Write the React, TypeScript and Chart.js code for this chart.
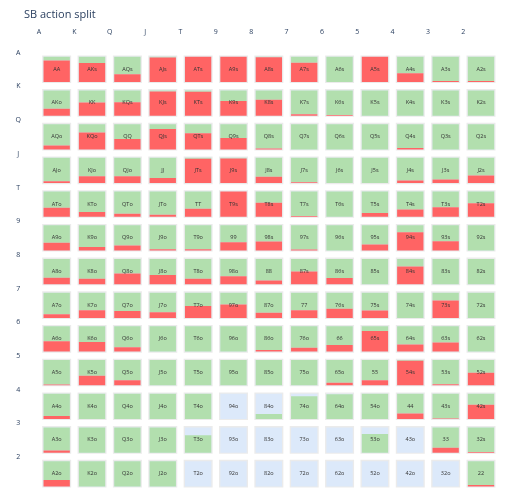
import React, { useEffect, useRef } from "react";
import { Chart, registerables } from "chart.js";

Chart.register(...registerables);

const ranks = ["A", "K", "Q", "J", "T", "9", "8", "7", "6", "5", "4", "3", "2"];

// raise share per cell (row = first rank, col = second rank)
const raiseA = [0.85, 0.75, 0.31, 0.97, 1, 1, 0.98, 0.76, 0, 1, 0.35, 0.04, 0.04];
const raiseK = [0.28, 0.52, 0.53, 0.96, 0.95, 0.58, 0.63, 0.06, 0.03, 0, 0, 0, 0];
const raiseQ = [0.16, 0.67, 0.41, 0.81, 0.64, 0.45, 0.04, 0, 0, 0, 0.06, 0, 0];
const raiseJ = [0.07, 0.27, 0.27, 0.2, 0.96, 0.97, 0.25, 0.03, 0, 0, 0.1, 0.14, 0.3];
const raiseT = [0.36, 0.19, 0.12, 0.08, 0.32, 1, 0.56, 0.03, 0, 0.15, 0.29, 0.38, 0.54];
const raise9 = [0.31, 0.14, 0.2, 0.05, 0.05, 0.33, 0.36, 0.04, 0, 0.24, 0.72, 0.37, 0];
const raise8 = [0.26, 0.22, 0.42, 0.36, 0.22, 0.32, 0.15, 0.5, 0.25, 0, 0.7, 0, 0];
const raise7 = [0.15, 0.3, 0.27, 0.22, 0.47, 0.53, 0.2, 0.3, 0.36, 0.29, 0, 0.69, 0];
const raise6 = [0.41, 0.38, 0.17, 0, 0, 0, 0.06, 0.15, 0.26, 0.82, 0.28, 0.36, 0];
const raise5 = [0.03, 0.38, 0.2, 0, 0, 0, 0, 0, 0.1, 0.2, 0.97, 0.04, 0.5];
const raise4 = [0.12, 0, 0, 0, 0, 0, 0, 0, 0, 0, 0.22, 0.02, 0.56];
const raise3 = [0.09, 0, 0, 0, 0, 0, 0, 0, 0, 0, 0, 0.2, 0.03];
const raise2 = [0.25, 0, 0, 0, 0, 0, 0, 0, 0, 0, 0, 0, 0.06];

// call share per cell
const callA = [0.15, 0.25, 0.69, 0.03, 0, 0, 0.02, 0.24, 1, 0, 0.65, 0.96, 0.96];
const callK = [0.72, 0.48, 0.47, 0.04, 0.05, 0.42, 0.37, 0.94, 0.97, 1, 1, 1, 1];
const callQ = [0.84, 0.33, 0.59, 0.19, 0.36, 0.55, 0.96, 1, 1, 1, 0.94, 1, 1];
const callJ = [0.93, 0.73, 0.73, 0.8, 0.04, 0.03, 0.75, 0.97, 1, 1, 0.9, 0.86, 0.7];
const callT = [0.64, 0.81, 0.88, 0.92, 0.68, 0, 0.44, 0.97, 1, 0.85, 0.71, 0.62, 0.46];
const call9 = [0.69, 0.86, 0.8, 0.95, 0.95, 0.67, 0.64, 0.96, 1, 0.76, 0.28, 0.63, 1];
const call8 = [0.74, 0.78, 0.58, 0.64, 0.78, 0.68, 0.85, 0.5, 0.75, 1, 0.3, 1, 1];
const call7 = [0.85, 0.7, 0.73, 0.78, 0.53, 0.47, 0.8, 0.7, 0.64, 0.71, 1, 0.31, 1];
const call6 = [0.59, 0.62, 0.83, 1, 1, 1, 0.94, 0.85, 0.74, 0.18, 0.72, 0.64, 1];
const call5 = [0.97, 0.62, 0.8, 1, 1, 1, 1, 1, 0.9, 0.8, 0.03, 0.96, 0.5];
const call4 = [0.88, 1, 1, 1, 1, 0, 0.2, 0.9, 0.98, 1, 0.78, 0.98, 0.44];
const call3 = [0.91, 1, 1, 1, 0.69, 0, 0, 0, 0, 0.74, 0, 0.8, 0.97];
const call2 = [0.75, 1, 1, 1, 0, 0, 0, 0, 0, 0, 0, 0, 0.94];

const raiseRows = [raiseA, raiseK, raiseQ, raiseJ, raiseT, raise9, raise8, raise7, raise6, raise5, raise4, raise3, raise2];
const callRows = [callA, callK, callQ, callJ, callT, call9, call8, call7, call6, call5, call4, call3, call2];

const handName = (r: number, c: number) =>
  r === c ? ranks[r] + ranks[c] : c > r ? ranks[r] + ranks[c] + "s" : ranks[c] + ranks[r] + "o";

// cell geometry in axis units
const OUT_TOP = 0.08;
const OUT_BOT = 0.9;
const IN_TOP = 0.12;
const IN_BOT = 0.87;
const IN_H = IN_BOT - IN_TOP;

const FONT = '"Open Sans", "DejaVu Sans", sans-serif';

export default function App() {
  const ref = useRef<HTMLCanvasElement | null>(null);

  useEffect(() => {
    if (!ref.current) return;
    const outer: any[] = [];
    const fold: any[] = [];
    const call: any[] = [];
    const raise: any[] = [];
    for (let r = 0; r < 13; r++) {
      for (let c = 0; c < 13; c++) {
        const x = c + 0.5;
        const bot = r + IN_BOT;
        const rv = raiseRows[r][c];
        const cv = callRows[r][c];
        outer.push({ x, y: [r + OUT_TOP, r + OUT_BOT] });
        fold.push({ x, y: [r + IN_TOP, r + IN_BOT] });
        if (cv > 0) call.push({ x, y: [bot - IN_H * (rv + cv), bot - IN_H * rv] });
        if (rv > 0) raise.push({ x, y: [bot - IN_H * rv, bot] });
      }
    }

    const textPlugin = {
      id: "cellText",
      afterDatasetsDraw(chart: any) {
        const { ctx, scales } = chart;
        ctx.save();
        ctx.font = `5.5px ${FONT}`;
        ctx.fillStyle = "#333";
        ctx.textAlign = "center";
        ctx.textBaseline = "middle";
        for (let r = 0; r < 13; r++) {
          for (let c = 0; c < 13; c++) {
            const px = scales.x.getPixelForValue(c + 0.5);
            const py = scales.y.getPixelForValue(r + (OUT_TOP + OUT_BOT) / 2);
            ctx.fillText(handName(r, c), px, py);
          }
        }
        ctx.restore();
      },
    };

    const titlePlugin = {
      id: "plainTitle",
      afterDraw(chart: any) {
        const { ctx } = chart;
        ctx.save();
        ctx.font = `11px ${FONT}`;
        ctx.fillStyle = "#2a3f5f";
        ctx.textAlign = "left";
        ctx.textBaseline = "middle";
        ctx.fillText("SB action split", 24, 15);
        ctx.restore();
      },
    };

    const common = { grouped: false, categoryPercentage: 1, borderWidth: 0 };
    const chart = new Chart(ref.current, {
      type: "bar",
      data: {
        datasets: [
          { label: "raise", data: raise, backgroundColor: "#ff6464", barPercentage: 0.745, order: 1, ...common },
          { label: "call", data: call, backgroundColor: "#b2dfae", barPercentage: 0.745, order: 2, ...common },
          { label: "fold", data: fold, backgroundColor: "#dce9fa", barPercentage: 0.745, order: 3, ...common },
          { label: "cell", data: outer, backgroundColor: "#ebebeb", barPercentage: 0.82, order: 4, ...common },
        ] as any,
      },
      options: {
        responsive: false,
        animation: false,
        devicePixelRatio: 1,
        layout: { padding: { top: 0, left: 0, right: 16.3, bottom: 8.2 } },
        plugins: {
          legend: { display: false },
          tooltip: { enabled: false },
          title: { display: false },
        },
        scales: {
          x: {
            type: "linear",
            position: "top",
            offset: false,
            min: 0,
            max: 13,
            grid: { display: false, drawTicks: true, tickLength: 17 },
            border: { display: false },
            afterFit: (s: any) => {
              s.height = 52.7;
            },
            ticks: {
              stepSize: 1,
              autoSkip: false,
              maxRotation: 0,
              padding: 0,
              color: "#2a3f5f",
              font: { family: FONT, size: 7 },
              callback: (v: any) => ranks[v] ?? "",
            },
          },
          y: {
            type: "linear",
            reverse: true,
            min: 0,
            max: 13,
            grid: { display: false, drawTicks: true, tickLength: 18 },
            border: { display: false },
            afterFit: (s: any) => {
              s.width = 39;
            },
            ticks: {
              stepSize: 1,
              autoSkip: false,
              crossAlign: "center",
              padding: 0,
              color: "#2a3f5f",
              font: { family: FONT, size: 7 },
              callback: (v: any) => ranks[v] ?? "",
            },
          },
        },
      } as any,
      plugins: [textPlugin, titlePlugin],
    });
    return () => chart.destroy();
  }, []);

  return (
    <div style={{ position: "absolute", left: 0, top: 0, width: 515, height: 499, background: "#fff" }}>
      <canvas ref={ref} width={515} height={499} style={{ display: "block" }} />
    </div>
  );
}
